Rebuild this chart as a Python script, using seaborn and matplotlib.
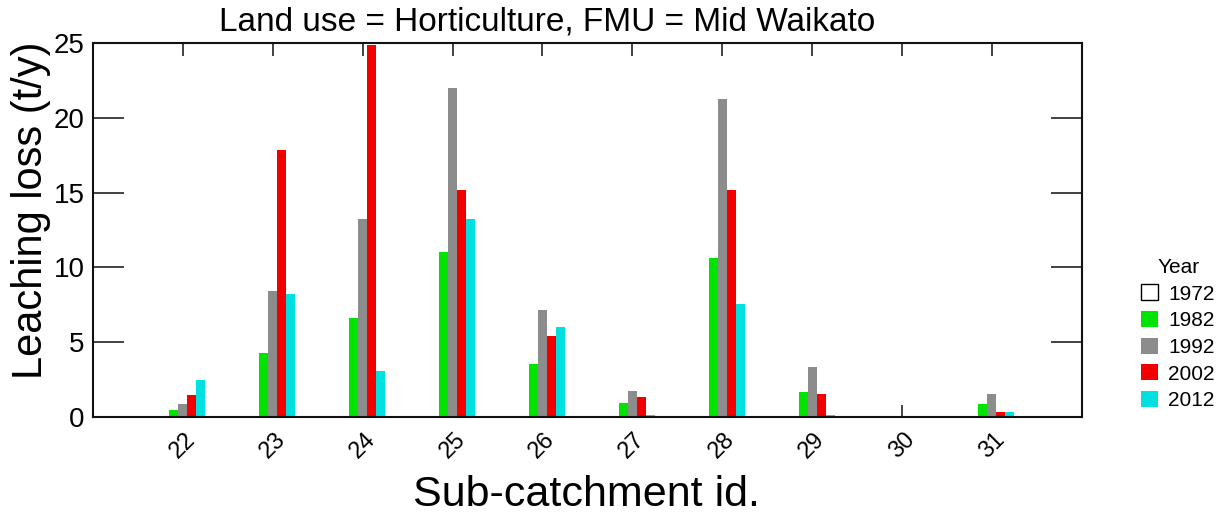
import pandas as pd
import numpy as np
import matplotlib
matplotlib.use("Agg")
import matplotlib.pyplot as plt
from matplotlib.patches import Patch
import seaborn as sns

# data
subcatchments = ["22", "23", "24", "25", "26", "27", "28", "29", "30", "31"]
years = ["1972", "1982", "1992", "2002", "2012"]
loss_1972 = [0, 0, 0, 0, 0, 0, 0, 0, 0, 0]
loss_1982 = [0.45, 4.25, 6.65, 11.05, 3.55, 0.95, 10.65, 1.65, 0.03, 0.85]
loss_1992 = [0.85, 8.45, 13.25, 22.0, 7.15, 1.75, 21.25, 3.35, 0.03, 1.55]
loss_2002 = [1.45, 17.85, 24.85, 15.2, 5.45, 1.35, 15.15, 1.55, 0.03, 0.35]
loss_2012 = [2.45, 8.25, 3.05, 13.25, 6.05, 0.12, 7.55, 0.12, 0.03, 0.35]
colors = ["#ffffff", "#00e400", "#8c8c8c", "#f20000", "#00e0e0"]

df = pd.DataFrame({
    "sub": subcatchments * 5,
    "year": np.repeat(years, len(subcatchments)),
    "loss": loss_1972 + loss_1982 + loss_1992 + loss_2002 + loss_2012,
})

sns.set_style("ticks")
plt.rcParams["font.family"] = ["Liberation Sans", "DejaVu Sans"]
plt.rcParams["text.color"] = "black"
plt.rcParams["xtick.labelcolor"] = "black"
plt.rcParams["ytick.labelcolor"] = "black"

fig = plt.figure(figsize=(12.32, 5.22), dpi=100)
ax = fig.add_axes([0.0755, 0.201, 0.8025, 0.7165])

sns.barplot(data=df, x="sub", y="loss", hue="year", hue_order=years,
            palette=colors, width=0.5, saturation=1, legend=False,
            linewidth=0, ax=ax)

# 1972 bars are all zero, drawn as outlined boxes
for bar in ax.containers[0]:
    bar.set_edgecolor("black")
    bar.set_linewidth(1.2)

ax.set_xlim(-1, 10)
ax.set_ylim(0, 25)
ax.set_yticks([0, 5, 10, 15, 20, 25])
ax.set_axisbelow(True)
ax.tick_params(axis="y", direction="in", length=22, width=1.2, labelsize=20,
               right=True, pad=6, color="#222222", labelcolor="black")
ax.tick_params(axis="x", direction="in", length=9, width=1.2, labelsize=17,
               top=True, pad=8, color="#222222", labelcolor="black")
plt.setp(ax.get_xticklabels(), rotation=45, ha="center")
for s in ax.spines.values():
    s.set_linewidth(1.5)
    s.set_color("#111111")
ax.set_xlabel("")
ax.set_ylabel("")

fig.text(0.444, 0.957, "Land use = Horticulture, FMU = Mid Waikato",
         ha="center", va="center", fontsize=24, color="black")
fig.text(0.476, 0.052, "Sub-catchment id.", ha="center", va="center",
         fontsize=31, color="black")
fig.text(0.025, 0.598, "Leaching loss (t/y)", ha="center", va="center",
         rotation=90, fontsize=30, color="black")

handles = [Patch(facecolor=c, edgecolor="black" if y == "1972" else c,
                 linewidth=1 if y == "1972" else 0)
           for y, c in zip(years, colors)]
leg = fig.legend(handles, years, title="Year", loc="center left",
                 bbox_to_anchor=(0.918, 0.36), frameon=False, fontsize=15,
                 title_fontsize=15, handlelength=0.8, handleheight=0.8,
                 handletextpad=0.5, labelspacing=0.36, borderpad=0)
for t in leg.get_texts():
    t.set_color("black")
leg.get_title().set_color("black")

fig.savefig("out.png", dpi=100)
